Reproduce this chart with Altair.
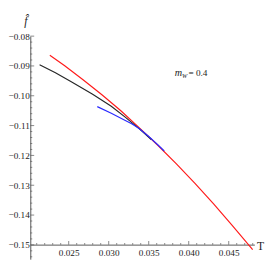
import altair as alt
import pandas as pd

# ---- data ----
red_T = [0.02264, 0.02450, 0.02683, 0.02915, 0.03148, 0.03380, 0.03613, 0.03846, 0.04078, 0.04311, 0.04543, 0.04799]
red_f = [-0.08639, -0.08991, -0.09470, -0.09965, -0.10493, -0.11068, -0.11659, -0.12282, -0.12938, -0.13625, -0.14344, -0.15159]

black_T = [0.02136, 0.02334, 0.02532, 0.02799, 0.03032, 0.03206, 0.03380, 0.03532]
black_f = [-0.08959, -0.09230, -0.09534, -0.09950, -0.10349, -0.10717, -0.11100, -0.11468]

blue_T = [0.02857, 0.03032, 0.03183, 0.03287, 0.03380, 0.03497, 0.03613, 0.03694]
blue_f = [-0.10365, -0.10589, -0.10796, -0.10940, -0.11100, -0.11356, -0.11643, -0.11851]

x_major = [0.025, 0.030, 0.035, 0.040, 0.045]
x_minor = [0.021, 0.022, 0.023, 0.024, 0.026, 0.027, 0.028, 0.029, 0.031, 0.032, 0.033, 0.034,
           0.036, 0.037, 0.038, 0.039, 0.041, 0.042, 0.043, 0.044, 0.046, 0.047, 0.048]
y_major = [-0.15, -0.14, -0.13, -0.12, -0.11, -0.10, -0.09, -0.08]
y_minor = [-0.154, -0.152, -0.148, -0.146, -0.144, -0.142, -0.138, -0.136, -0.134, -0.132,
           -0.128, -0.126, -0.124, -0.122, -0.118, -0.116, -0.114, -0.112,
           -0.108, -0.106, -0.104, -0.102, -0.098, -0.096, -0.094, -0.092,
           -0.088, -0.086, -0.084, -0.082]

x_domain = [0.0202, 0.0482]
y_domain = [-0.1548, -0.08]
x_axis_at = -0.15

label_T = [0.04008]
label_f = [-0.09246]

FONT = "Liberation Serif"
AXC = "#555555"

xs = alt.Scale(domain=x_domain, nice=False, zero=False)
ys = alt.Scale(domain=y_domain, nice=False, zero=False)

xaxis = alt.Axis(values=x_major, format=".3f", grid=False, ticks=False, offset=-15,
                 domainColor=AXC, domainWidth=1, labelFont=FONT, labelFontSize=9.5,
                 labelColor="#222", labelPadding=3, labelFlush=False, labelOverlap=False,
                 title="T", titleFont=FONT, titleFontSize=12, titleFontWeight="normal",
                 titleColor="#222", titleX=237, titleY=1, titleBaseline="middle", titleAlign="center")
yaxis = alt.Axis(values=y_major, format=".2f", grid=False, ticks=False,
                 domainColor=AXC, domainWidth=1, labelFont=FONT, labelFontSize=9.5,
                 labelColor="#222", labelPadding=1, labelFlush=False, labelOverlap=False,
                 title="f\u0302", titleFont=FONT, titleFontSize=12, titleFontWeight="normal",
                 titleFontStyle="italic", titleColor="#222", titleAngle=0,
                 titleX=-5, titleY=-12, titleAlign="center", titleBaseline="alphabetic")

X = lambda f: alt.X(f, scale=xs, axis=xaxis)
Y = lambda f: alt.Y(f, scale=ys, axis=yaxis)

def line(T, f, color):
    d = pd.DataFrame({"T": T, "f": f})
    return alt.Chart(d).mark_line(color=color, strokeWidth=1.2).encode(
        x=X("T:Q"), y=Y("f:Q"), order=alt.Order("T:Q"))

red = line(red_T, red_f, "#ff1a1a")
black = line(black_T, black_f, "#262626")
blue = line(blue_T, blue_f, "#2a2aff")

def yticks(vals, length):
    d = pd.DataFrame({"f": vals, "T": [x_domain[0]] * len(vals)})
    return alt.Chart(d).mark_tick(orient="horizontal", thickness=1, size=length,
                                  xOffset=length / 2, color=AXC).encode(
        x=X("T:Q"), y=Y("f:Q"))

def xticks(vals, length):
    d = pd.DataFrame({"T": vals, "f": [x_axis_at] * len(vals)})
    return alt.Chart(d).mark_tick(orient="vertical", thickness=1, size=length,
                                  yOffset=-length / 2, color=AXC).encode(
        x=X("T:Q"), y=Y("f:Q"))

lab = pd.DataFrame({"T": label_T, "f": label_f})
base = alt.Chart(lab).encode(x=X("T:Q"), y=Y("f:Q"))
t_m = base.mark_text(text="m", font=FONT, fontSize=10.5, fontStyle="italic", align="left",
                     baseline="middle", dx=-15, color="#222", fontWeight="normal")
t_w = base.mark_text(text="W", font=FONT, fontSize=6.5, fontStyle="italic", align="left",
                     baseline="middle", dx=-7.5, dy=3, color="#222", fontWeight="normal")
t_eq = base.mark_text(text="= 0.4", font=FONT, fontSize=9.5, align="left",
                      baseline="middle", dx=-1, color="#222", fontWeight="normal")

chart = alt.layer(
    red, black, blue,
    yticks(y_major, 4), yticks(y_minor, 2), xticks(x_major, 4), xticks(x_minor, 2),
    t_m, t_w, t_eq,
).properties(
    width=231, height=230,
    autosize=alt.AutoSizeParams(type="none"),
    padding={"left": 23, "top": 25, "right": 11, "bottom": 2},
).configure_view(stroke=None).configure_axis(labelOverlap=False)

chart.save("out.html", embed_options={"renderer": "svg", "actions": False})
